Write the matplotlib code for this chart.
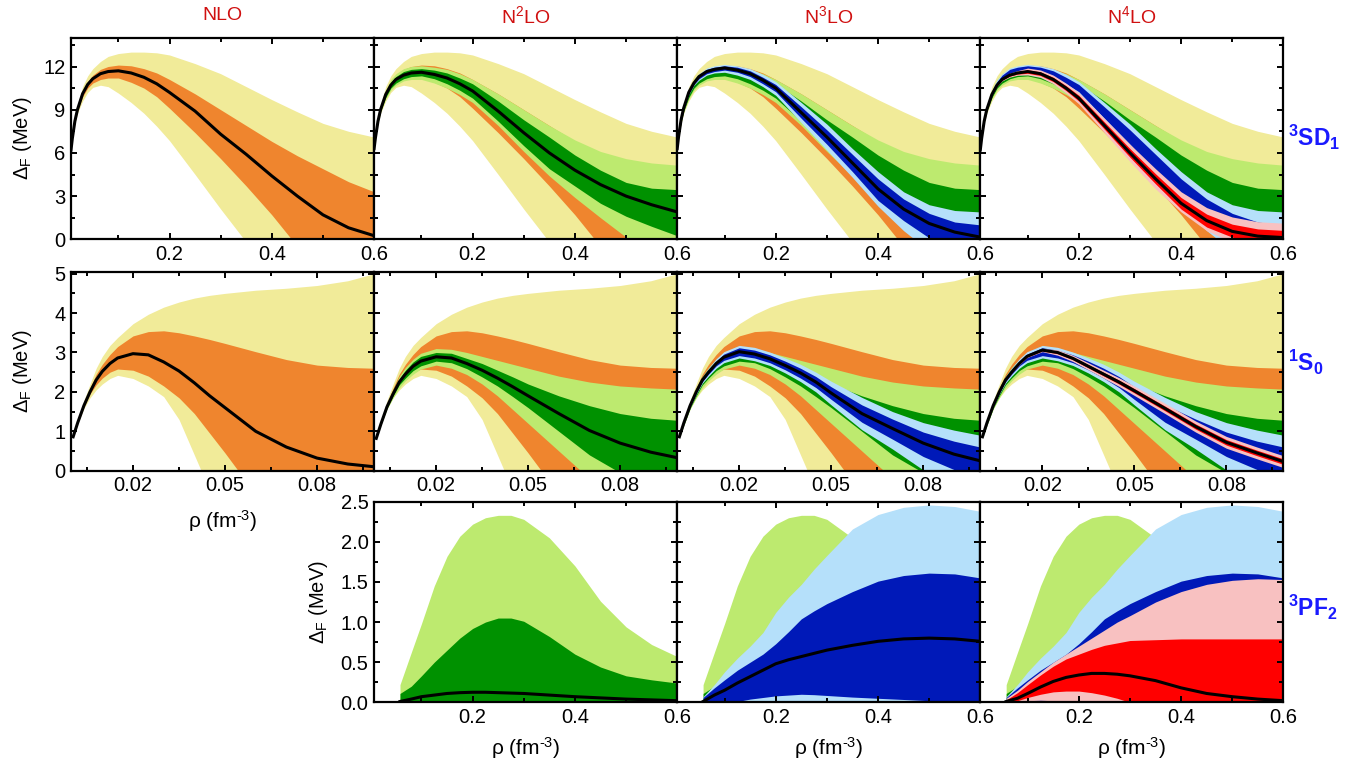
import numpy as np
import matplotlib
matplotlib.use("Agg")
import matplotlib.pyplot as plt
from matplotlib.ticker import FixedLocator, FixedFormatter

plt.rcParams['font.family'] = ['Liberation Sans', 'DejaVu Sans']
plt.rcParams['mathtext.fontset'] = 'custom'
plt.rcParams['mathtext.rm'] = 'Liberation Sans'
plt.rcParams['mathtext.it'] = 'Liberation Sans:italic'
plt.rcParams['mathtext.bf'] = 'Liberation Sans:bold'

# ---------------- data (each band: [lo 2sig, lo 1sig, central, hi 1sig, hi 2sig]) ----------------
orders = ["NLO", r"N$^2$LO", r"N$^3$LO", r"N$^4$LO"]
channels = [r"$\mathbf{^3SD_1}$", r"$\mathbf{^1S_0}$", r"$\mathbf{^3PF_2}$"]

# 3SD1, rho in fm^-3
x_sd1 = [0.0074, 0.01, 0.015, 0.02, 0.03, 0.04, 0.05, 0.065, 0.08, 0.1, 0.125, 0.15, 0.175,
         0.2, 0.25, 0.3, 0.35, 0.4, 0.45, 0.5, 0.55, 0.6]
sd1_nlo = [
    [6.2, 6.95, 8.05, 8.75, 9.6, 10.2, 10.55, 10.7, 10.6, 10.15, 9.5, 8.75, 7.85,
     6.85, 4.5, 2.1, -0.2, -2.5, -4.8, -7.0, -9.0, -11.0],
    [6.2, 7.0, 8.15, 8.9, 9.9, 10.5, 10.85, 11.1, 11.2, 11.2, 10.9, 10.5, 9.9,
     9.1, 7.4, 5.6, 3.7, 1.7, -0.5, -2.5, -3.5, -4.5],
    [6.2, 7.0, 8.2, 9.0, 10.1, 10.75, 11.15, 11.5, 11.65, 11.7, 11.55, 11.25, 10.8,
     10.2, 8.9, 7.3, 5.9, 4.4, 3.0, 1.7, 0.8, 0.25],
    [6.2, 7.0, 8.25, 9.1, 10.3, 10.95, 11.4, 11.8, 12.0, 12.1, 12.05, 11.85, 11.55,
     11.1, 10.1, 9.0, 7.9, 6.8, 5.8, 4.9, 4.0, 3.3],
    [6.2, 7.05, 8.35, 9.3, 10.6, 11.35, 11.85, 12.35, 12.7, 12.9, 13.0, 13.0, 12.95,
     12.8, 12.2, 11.5, 10.6, 9.7, 8.85, 8.05, 7.5, 7.1],
]
sd1_n2lo = [
    [6.3, 7.0, 8.1, 8.85, 9.75, 10.35, 10.7, 11.0, 11.1, 11.1, 10.85, 10.5, 10.05,
     9.5, 7.9, 6.1, 4.4, 2.9, 1.5, 0.15, -1.0, -2.0],
    [6.3, 7.0, 8.15, 8.9, 9.85, 10.5, 10.85, 11.15, 11.3, 11.35, 11.15, 10.8, 10.35,
     9.8, 8.2, 6.5, 4.9, 3.7, 2.5, 1.6, 0.9, 0.25],
    [6.3, 7.05, 8.2, 9.0, 10.05, 10.7, 11.1, 11.4, 11.55, 11.6, 11.45, 11.2, 10.8,
     10.3, 8.9, 7.4, 6.0, 4.8, 3.8, 3.0, 2.4, 1.9],
    [6.3, 7.05, 8.25, 9.1, 10.2, 10.9, 11.3, 11.65, 11.8, 11.85, 11.75, 11.55, 11.2,
     10.8, 9.6, 8.3, 7.1, 5.85, 4.8, 3.95, 3.55, 3.45],
    [6.3, 7.05, 8.3, 9.15, 10.35, 11.1, 11.5, 11.85, 12.0, 12.05, 11.95, 11.8, 11.5,
     11.1, 10.1, 9.0, 7.9, 6.9, 6.1, 5.6, 5.3, 5.15],
]
sd1_n3lo = [
    [6.3, 7.05, 8.2, 9.0, 10.05, 10.7, 11.05, 11.4, 11.55, 11.6, 11.4, 11.1, 10.6,
     10.0, 8.1, 6.2, 4.3, 2.3, 0.6, -0.8, -1.5, -2.0],
    [6.3, 7.05, 8.2, 9.05, 10.1, 10.75, 11.15, 11.5, 11.65, 11.75, 11.6, 11.3, 10.8,
     10.25, 8.4, 6.6, 4.7, 2.7, 1.3, 0.1, -0.5, -0.7],
    [6.3, 7.1, 8.3, 9.1, 10.2, 10.85, 11.3, 11.65, 11.8, 11.9, 11.75, 11.5, 11.05,
     10.5, 8.8, 7.1, 5.3, 3.5, 2.1, 1.1, 0.5, 0.15],
    [6.3, 7.1, 8.35, 9.2, 10.3, 10.95, 11.4, 11.8, 11.95, 12.05, 11.95, 11.7, 11.25,
     10.75, 9.2, 7.6, 5.9, 4.2, 2.8, 1.8, 1.2, 1.0],
    [6.3, 7.1, 8.4, 9.25, 10.35, 11.05, 11.5, 11.9, 12.05, 12.15, 12.05, 11.85, 11.45,
     10.95, 9.5, 8.0, 6.3, 4.7, 3.3, 2.4, 2.0, 1.9],
]
sd1_n4lo = [
    [6.2, 7.0, 8.18, 8.97, 9.99, 10.62, 11.0, 11.26, 11.39, 11.41, 11.24, 10.8, 10.16,
     9.4, 7.4, 5.4, 3.5, 1.9, 0.6, -0.2, -0.78, -0.88],
    [6.2, 7.0, 8.19, 8.985, 10.02, 10.66, 11.05, 11.33, 11.47, 11.53, 11.37, 10.95, 10.33,
     9.6, 7.65, 5.7, 3.85, 2.1, 0.85, 0.15, -0.2, -0.38],
    [6.2, 7.0, 8.2, 9.0, 10.05, 10.7, 11.1, 11.4, 11.55, 11.65, 11.5, 11.1, 10.5,
     9.8, 7.9, 6.0, 4.2, 2.5, 1.3, 0.55, 0.22, 0.12],
    [6.2, 7.0, 8.21, 9.015, 10.08, 10.74, 11.15, 11.47, 11.63, 11.77, 11.63, 11.25, 10.67,
     10.0, 8.15, 6.3, 4.55, 2.9, 1.75, 1.05, 0.72, 0.62],
    [6.2, 7.0, 8.22, 9.03, 10.11, 10.78, 11.2, 11.54, 11.71, 11.89, 11.76, 11.4, 10.84,
     10.2, 8.4, 6.6, 4.9, 3.3, 2.2, 1.55, 1.22, 1.12],
]

# 1S0
x_s0 = [0.0005, 0.002, 0.004, 0.006, 0.008, 0.01, 0.0125, 0.015, 0.02, 0.025, 0.03, 0.035,
        0.04, 0.045, 0.05, 0.06, 0.07, 0.08, 0.09, 0.0986]
s0_nlo = [
    [0.86, 1.2, 1.58, 1.85, 2.05, 2.2, 2.34, 2.42, 2.34, 2.15, 1.88, 1.3,
     0.4, -0.5, -1.5, -2.5, -3.0, -3.5, -4.0, -4.5],
    [0.86, 1.21, 1.62, 1.95, 2.18, 2.35, 2.5, 2.58, 2.55, 2.4, 2.15, 1.85,
     1.45, 0.95, 0.45, -0.6, -1.5, -2.0, -2.2, -2.4],
    [0.86, 1.22, 1.65, 2.0, 2.3, 2.52, 2.72, 2.86, 2.97, 2.94, 2.76, 2.53,
     2.23, 1.9, 1.6, 1.0, 0.6, 0.32, 0.17, 0.1],
    [0.86, 1.23, 1.7, 2.1, 2.45, 2.7, 2.95, 3.15, 3.42, 3.53, 3.55, 3.5,
     3.42, 3.33, 3.23, 3.02, 2.82, 2.68, 2.62, 2.6],
    [0.86, 1.25, 1.78, 2.2, 2.6, 2.9, 3.18, 3.38, 3.73, 3.97, 4.15, 4.28,
     4.38, 4.45, 4.5, 4.58, 4.63, 4.7, 4.82, 5.0],
]
s0_n2lo = [
    [0.82, 1.16, 1.56, 1.85, 2.1, 2.28, 2.45, 2.58, 2.68, 2.6, 2.44, 2.2,
     1.9, 1.55, 1.2, 0.5, -0.2, -0.7, -1.1, -1.4],
    [0.82, 1.17, 1.59, 1.9, 2.18, 2.35, 2.54, 2.66, 2.78, 2.74, 2.59, 2.38,
     2.15, 1.88, 1.6, 1.0, 0.4, -0.05, -0.4, -0.6],
    [0.82, 1.18, 1.62, 1.95, 2.25, 2.45, 2.65, 2.78, 2.89, 2.86, 2.72, 2.55,
     2.35, 2.13, 1.9, 1.45, 1.02, 0.7, 0.47, 0.33],
    [0.82, 1.19, 1.65, 2.0, 2.32, 2.55, 2.76, 2.9, 3.0, 2.98, 2.85, 2.72,
     2.55, 2.38, 2.2, 1.9, 1.65, 1.45, 1.33, 1.28],
    [0.82, 1.2, 1.68, 2.05, 2.4, 2.62, 2.83, 2.98, 3.1, 3.08, 3.0, 2.9,
     2.8, 2.7, 2.6, 2.4, 2.25, 2.15, 2.1, 2.07],
]
s0_n3lo = [
    [0.86, 1.2, 1.61, 1.94, 2.22, 2.4, 2.6, 2.74, 2.86, 2.79, 2.67, 2.48,
     2.26, 2.0, 1.67, 1.04, 0.55, 0.02, -0.36, -0.55],
    [0.86, 1.21, 1.63, 1.97, 2.26, 2.45, 2.66, 2.8, 2.92, 2.86, 2.74, 2.56,
     2.35, 2.11, 1.81, 1.23, 0.8, 0.36, 0.03, -0.15],
    [0.86, 1.22, 1.65, 2.0, 2.3, 2.5, 2.72, 2.88, 3.02, 2.96, 2.84, 2.67,
     2.48, 2.25, 1.97, 1.45, 1.07, 0.7, 0.42, 0.25],
    [0.86, 1.23, 1.67, 2.03, 2.34, 2.55, 2.78, 2.96, 3.12, 3.06, 2.94, 2.78,
     2.6, 2.39, 2.13, 1.67, 1.31, 0.98, 0.75, 0.6],
    [0.86, 1.24, 1.69, 2.06, 2.38, 2.6, 2.84, 3.02, 3.18, 3.13, 3.01, 2.86,
     2.7, 2.5, 2.27, 1.86, 1.5, 1.22, 1.03, 0.9],
]
s0_n4lo = [
    [0.86, 1.22, 1.65, 2.0, 2.29, 2.48, 2.69, 2.87, 3.02, 2.93, 2.77, 2.56,
     2.35, 2.14, 1.91, 1.45, 0.98, 0.57, 0.3, 0.08],
    [0.86, 1.22, 1.65, 2.0, 2.295, 2.49, 2.708, 2.885, 3.04, 2.97, 2.815, 2.61,
     2.405, 2.2, 1.975, 1.52, 1.055, 0.65, 0.38, 0.16],
    [0.86, 1.22, 1.65, 2.0, 2.3, 2.5, 2.72, 2.9, 3.06, 3.0, 2.85, 2.65,
     2.45, 2.25, 2.03, 1.58, 1.12, 0.72, 0.45, 0.23],
    [0.86, 1.22, 1.65, 2.0, 2.305, 2.51, 2.732, 2.915, 3.08, 3.03, 2.885, 2.69,
     2.495, 2.3, 2.085, 1.64, 1.185, 0.79, 0.52, 0.3],
    [0.86, 1.22, 1.65, 2.0, 2.31, 2.52, 2.75, 2.93, 3.1, 3.07, 2.93, 2.74,
     2.55, 2.36, 2.15, 1.71, 1.26, 0.87, 0.6, 0.38],
]

# 3PF2 (no NLO)
x_pf2 = [0.058, 0.08, 0.1, 0.125, 0.15, 0.175, 0.2, 0.225, 0.25, 0.275, 0.3, 0.35, 0.4, 0.45, 0.5, 0.55, 0.6]
pf2_n2lo = [
    [0] * 17,
    [0] * 17,
    [0.01, 0.04, 0.07, 0.09, 0.11, 0.12, 0.125, 0.125, 0.12, 0.115, 0.11, 0.09, 0.07, 0.055, 0.04, 0.03, 0.02],
    [0.11, 0.2, 0.33, 0.5, 0.65, 0.8, 0.92, 1.0, 1.05, 1.05, 1.01, 0.82, 0.6, 0.44, 0.33, 0.28, 0.24],
    [0.22, 0.62, 0.98, 1.45, 1.82, 2.07, 2.22, 2.3, 2.33, 2.33, 2.28, 2.05, 1.7, 1.26, 0.94, 0.72, 0.57],
]
pf2_n3lo = [
    [0] * 17,
    [0, 0, 0, 0.01, 0.04, 0.06, 0.08, 0.09, 0.1, 0.095, 0.085, 0.065, 0.05, 0.035, 0.02, 0.01, 0.005],
    [0.01, 0.09, 0.15, 0.24, 0.32, 0.4, 0.48, 0.53, 0.57, 0.61, 0.65, 0.71, 0.76, 0.79, 0.8, 0.79, 0.76],
    [0.06, 0.18, 0.28, 0.4, 0.5, 0.6, 0.73, 0.88, 1.04, 1.14, 1.23, 1.38, 1.51, 1.58, 1.61, 1.6, 1.55],
    [0.07, 0.22, 0.38, 0.55, 0.7, 0.87, 1.12, 1.31, 1.47, 1.66, 1.83, 2.16, 2.34, 2.43, 2.46, 2.44, 2.38],
]
pf2_n4lo = [
    [0, 0.01, 0.02, 0.025, 0.02, 0.01, 0, 0, 0, 0, 0, 0, 0, 0, 0, 0, 0],
    [0, 0.02, 0.06, 0.1, 0.13, 0.14, 0.14, 0.12, 0.09, 0.05, 0.0, 0, 0, 0, 0, 0, 0],
    [0.01, 0.05, 0.11, 0.19, 0.26, 0.31, 0.34, 0.36, 0.36, 0.35, 0.33, 0.27, 0.18, 0.11, 0.07, 0.04, 0.02],
    [0.03, 0.12, 0.22, 0.34, 0.45, 0.54, 0.6, 0.66, 0.71, 0.74, 0.77, 0.78, 0.79, 0.79, 0.79, 0.79, 0.79],
    [0.05, 0.15, 0.26, 0.38, 0.5, 0.6, 0.7, 0.8, 0.9, 1.0, 1.08, 1.25, 1.38, 1.47, 1.52, 1.54, 1.53],
]

# light / dark band colour per order
band_colors = [("#f1eb99", "#ef852e"), ("#bdea6f", "#009100"),
               ("#b5e0fa", "#0019b8"), ("#f8c1c1", "#ff0000")]

rows = [
    dict(x=x_sd1, bands=[sd1_nlo, sd1_n2lo, sd1_n3lo, sd1_n4lo], first=0,
         xlim=(0.0074, 0.6), xmaj=[0.2, 0.4, 0.6], xmin=[0.1, 0.3, 0.5], xlab=["0.2", "0.4", "0.6"],
         ylim=(0, 14), ymaj=[0, 3, 6, 9, 12], ymin=[1.5, 4.5, 7.5, 10.5, 13.5], ylab=["0", "3", "6", "9", "12"]),
    dict(x=x_s0, bands=[s0_nlo, s0_n2lo, s0_n3lo, s0_n4lo], first=0,
         xlim=(-0.0002, 0.0986), xmaj=[0.02, 0.05, 0.08], xmin=[0.005, 0.035, 0.065, 0.095],
         xlab=["0.02", "0.05", "0.08"],
         ylim=(0, 5.05), ymaj=[0, 1, 2, 3, 4, 5], ymin=[0.5, 1.5, 2.5, 3.5, 4.5], ylab=["0", "1", "2", "3", "4", "5"]),
    dict(x=x_pf2, bands=[None, pf2_n2lo, pf2_n3lo, pf2_n4lo], first=1,
         xlim=(0.0074, 0.6), xmaj=[0.2, 0.4, 0.6], xmin=[0.1, 0.3, 0.5], xlab=["0.2", "0.4", "0.6"],
         ylim=(0, 2.5), ymaj=[0, 0.5, 1.0, 1.5, 2.0, 2.5], ymin=[0.25, 0.75, 1.25, 1.75, 2.25],
         ylab=["0.0", "0.5", "1.0", "1.5", "2.0", "2.5"]),
]

# ---------------- layout (pixels) ----------------
W, H = 1362, 764
fig = plt.figure(figsize=(W / 100, H / 100), dpi=100)

col_left = [71 + i * 303.1 for i in range(4)]
col_w = 303.1
row_top = [37.7, 271.7, 501.7]
row_h = [201.6, 199.0, 200.6]


def px_rect(l, t, w, h):
    return [l / W, 1 - (t + h) / H, w / W, h / H]


for r, row in enumerate(rows):
    for c in range(row["first"], 4):
        ax = fig.add_axes(px_rect(col_left[c], row_top[r], col_w, row_h[r]))
        for k in range(row["first"], c + 1):
            lo2, lo1, cen, hi1, hi2 = row["bands"][k]
            light, dark = band_colors[k]
            ax.fill_between(row["x"], lo2, hi2, color=light, lw=0)
            ax.fill_between(row["x"], lo1, hi1, color=dark, lw=0)
        ax.plot(row["x"], row["bands"][c][2], color="k", lw=2.2, solid_joinstyle="round")

        ax.set_xlim(*row["xlim"])
        ax.set_ylim(*row["ylim"])
        ax.xaxis.set_major_locator(FixedLocator(row["xmaj"]))
        ax.xaxis.set_minor_locator(FixedLocator(row["xmin"]))
        ax.xaxis.set_major_formatter(FixedFormatter(row["xlab"]))
        ax.yaxis.set_major_locator(FixedLocator(row["ymaj"]))
        ax.yaxis.set_minor_locator(FixedLocator(row["ymin"]))
        ax.yaxis.set_major_formatter(FixedFormatter(row["ylab"]))
        ax.tick_params(which="both", direction="in", top=True, right=True, width=1.4)
        ax.tick_params(which="major", length=4.5, labelsize=14.5, pad=4)
        ax.tick_params(which="minor", length=2.8)
        if c != row["first"]:
            ax.tick_params(labelleft=False)
        for s in ax.spines.values():
            s.set_linewidth(1.6)

# y labels
ylab = r"$\mathregular{\Delta_F}$ (MeV)"
for xc, yc in [(22, 138), (22, 371), (318, 602)]:
    fig.text(xc / W, 1 - yc / H, ylab, fontsize=14.5, rotation=90, ha="center", va="center")

# column titles
for c, name in enumerate(orders):
    fig.text((col_left[c] + col_w / 2) / W, 1 - 16 / H, name, color="#d01010",
             fontsize=14, ha="center", va="center")

# channel labels on the right
for r, name in enumerate(channels):
    yc = [137, 362, 607][r]
    fig.text(1288 / W, 1 - yc / H, name, color="#1a1aff", fontsize=16.5,
             ha="left", va="center")

# density labels
rho_label = r"$\mathregular{\rho}$ (fm$^{\text{-3}}$)"
fig.text((col_left[0] + col_w / 2) / W, 1 - 521 / H, rho_label, fontsize=15, ha="center", va="center")
for c in range(1, 4):
    fig.text((col_left[c] + col_w / 2) / W, 1 - 748 / H, rho_label, fontsize=15, ha="center", va="center")

fig.savefig("out.png", dpi=100)
